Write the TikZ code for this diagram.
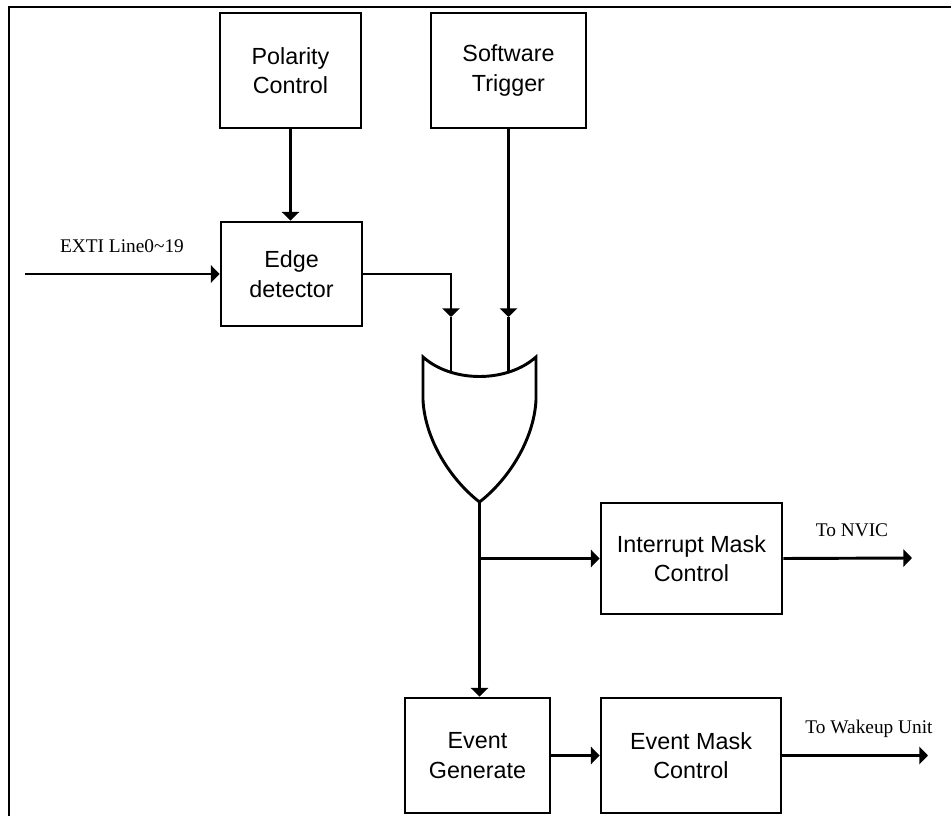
\documentclass[tikz,border=0pt]{standalone}
\usepackage{fontspec}
\setmainfont{Liberation Serif}
\setsansfont{Liberation Sans}
\usetikzlibrary{arrows.meta}
\begin{document}
\begin{tikzpicture}[x=0.75pt,y=-0.75pt,
  line width=2.2pt,
  blk/.style={draw,line width=2.2pt,inner sep=0pt,align=center,
    font=\sffamily\fontsize{17.5}{22}\selectfont},
  lbl/.style={inner sep=0pt,font=\rmfamily\fontsize{14.5}{17}\selectfont},
  arr/.style={-{Triangle[length=6.5pt,width=13pt]}}]
\useasboundingbox (0,0) rectangle (951,816);
% frame (top and left edges visible)
\draw (951,7) -- (9,7) -- (9,816);
% blocks
\node[blk,minimum width=105.75pt,minimum height=86.25pt] (pc) at (290.5,70.5) {Polarity\\Control};
\node[blk,minimum width=116.25pt,minimum height=86.25pt] (sw) at (508.5,70.5) {Software\\Trigger};
\node[blk,minimum width=105.75pt,minimum height=78pt] (ed) at (291.5,274) {Edge\\detector};
\node[blk,minimum width=135.75pt,minimum height=83.25pt] (im) at (691.5,558.5) {Interrupt Mask\\Control};
\node[blk,minimum width=108.75pt,minimum height=86.25pt] (eg) at (477.5,755.5) {Event\\Generate};
\node[blk,minimum width=135pt,minimum height=86.25pt] (em) at (691,755.5) {Event Mask\\Control};
% labels
\node[lbl] (lext) at (122,246) {EXTI Line0\textasciitilde 19};
\node[lbl] (lnv) at (852,530) {To NVIC};
\node[lbl] (lwk) at (869,729) {To Wakeup Unit};
% OR gate
\coordinate (gtl) at (423,357);
\coordinate (gtr) at (536,357);
\coordinate (gout) at (479.5,502);
\draw[line join=miter] (gtl) .. controls (452,383) and (507,383) .. (gtr)
  -- (536,400) .. controls (534,440) and (508,480) .. (gout)
  .. controls (451,480) and (425,440) .. (423,400) -- cycle;
% gate inputs
\coordinate (in1m) at (451,317);
\coordinate (in1e) at (451,371);
\coordinate (in2m) at (508.5,317);
\coordinate (in2e) at (508.5,371);
\coordinate (exs) at (25,274);
\coordinate (nv) at (912,558);
\coordinate (wk) at (928,755.5);
% connectors
\draw[arr] (exs) -- (ed.west);
\draw[arr] (pc.south) -- (pc.south |- ed.north);
\draw[arr] (ed.east) -| (in1m);
\draw (in1m) -- (in1e);
\draw[arr] (sw.south) -- (in2m);
\draw (in2m) -- (in2e);
\draw[arr] (gout) -- (gout |- eg.north);
\draw[arr] (gout |- im.west) -- (im.west);
\draw[arr] (eg.east) -- (em.west);
\draw[arr] (im.east) -- (nv);
\draw[arr] (em.east) -- (wk);
\end{tikzpicture}
\end{document}
